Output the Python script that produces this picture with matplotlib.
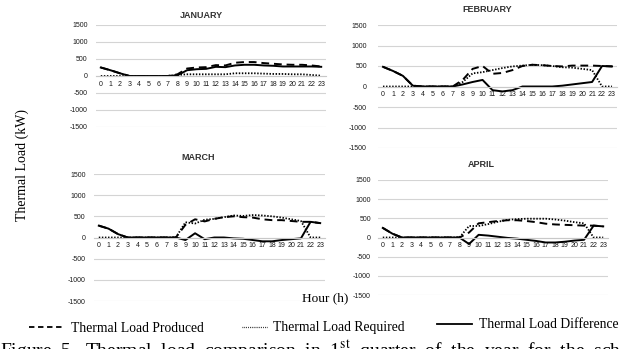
import matplotlib.pyplot as plt
from matplotlib.lines import Line2D

hours = list(range(24))
months = ["JANUARY", "FEBRUARY", "MARCH", "APRIL"]

# Thermal load per hour (kW)
jan_produced = [250, 170, 80, 0, 0, 0, 0, 0, 50, 220, 250, 260, 320, 310, 390, 410, 410, 380, 360, 340, 330, 330, 310, 280]
jan_required = [0, 0, 0, 0, 0, 0, 0, 0, 30, 50, 50, 50, 50, 50, 80, 80, 80, 70, 60, 60, 50, 50, 30, 10]
jan_difference = [250, 170, 80, 0, 0, 0, 0, 0, 20, 170, 200, 210, 270, 260, 310, 330, 330, 310, 300, 280, 280, 280, 280, 270]

feb_produced = [480, 380, 260, 20, 0, 0, 0, 0, 160, 430, 500, 310, 330, 400, 500, 530, 520, 500, 490, 510, 510, 510, 500, 490]
feb_required = [0, 0, 0, 0, 0, 0, 0, 0, 110, 320, 350, 400, 450, 490, 510, 530, 520, 500, 470, 460, 430, 400, 0, 0]
feb_difference = [480, 380, 260, 20, 0, 0, 0, 0, 50, 110, 160, -90, -120, -90, 0, 0, 0, 0, 20, 50, 80, 110, 500, 490]

mar_produced = [280, 210, 80, 0, 0, 0, 0, 0, 0, 300, 430, 380, 440, 480, 500, 480, 470, 430, 410, 410, 390, 370, 370, 340]
mar_required = [0, 0, 0, 0, 0, 0, 0, 0, 0, 360, 330, 420, 440, 480, 520, 510, 530, 520, 500, 470, 430, 390, 0, 0]
mar_difference = [280, 210, 80, 0, 0, 0, 0, 0, 0, -60, 100, -40, 0, 0, -20, -30, -60, -90, -90, -60, -40, -20, 370, 340]

apr_produced = [250, 100, 0, 0, 0, 0, 0, 0, 0, 130, 370, 400, 430, 450, 450, 430, 400, 360, 340, 330, 320, 310, 310, 290]
apr_required = [0, 0, 0, 0, 0, 0, 0, 0, 0, 300, 300, 350, 410, 460, 480, 490, 490, 490, 470, 440, 400, 370, 0, 0]
apr_difference = [250, 100, 0, 0, 0, 0, 0, 0, 0, -170, 70, 50, 20, -10, -30, -60, -90, -130, -130, -110, -80, -60, 310, 290]

y_ticks = [-1500, -1000, -500, 0, 500, 1000, 1500]

plt.rcParams['axes.unicode_minus'] = False
plt.rcParams['mathtext.fontset'] = 'stix'

W, H = 620, 349
fig = plt.figure(figsize=(W / 100, H / 100), dpi=100)


def box(x0, x1, ytop, ybot):
    # pixel box -> figure fraction
    return [x0 / W, 1 - ybot / H, (x1 - x0) / W, (ybot - ytop) / H]


panels = [
    (box(96, 326, 25, 127), (201, 16), 6, jan_produced, jan_required, jan_difference),
    (box(378, 617, 25, 148), (487, 10), 8, feb_produced, feb_required, feb_difference),
    (box(94, 325, 174, 301), (198, 158), 6, mar_produced, mar_required, mar_difference),
    (box(378, 608, 180, 295), (481, 165), 5, apr_produced, apr_required, apr_difference),
]

for name, (rect, (tx, ty), ypad, prod, req, diff) in zip(months, panels):
    ax = fig.add_axes(rect)
    # category axis sits on the zero line
    ax.spines['bottom'].set_position(('data', 0))
    ax.plot(hours, req, color='black', lw=1.3, linestyle=(0, (0.8, 0.9)))
    ax.plot(hours, prod, color='black', lw=1.4, linestyle=(0, (4, 2.5)))
    ax.plot(hours, diff, color='black', lw=1.4)
    ax.set_xlim(-0.5, 23.5)
    ax.set_ylim(-1500, 1500)
    ax.set_yticks(y_ticks)
    ax.set_yticklabels([str(v) for v in y_ticks])
    ax.set_xticks(hours)
    ax.set_xticklabels([str(h) for h in hours])
    ax.grid(axis='y', color='#d4d4d4', lw=0.8)
    ax.set_axisbelow(True)
    for s in ['top', 'right', 'left']:
        ax.spines[s].set_visible(False)
    ax.spines['bottom'].set_color('#c8c8c8')
    ax.spines['bottom'].set_linewidth(0.8)
    ax.tick_params(axis='x', length=0, pad=3.3, labelsize=5, labelcolor='#1a1a1a',
                   labelfontfamily='Liberation Sans')
    ax.tick_params(axis='y', length=0, pad=ypad, labelsize=5, labelcolor='#1a1a1a',
                   labelfontfamily='Liberation Sans')
    ax.patch.set_alpha(0)
    fig.text(tx / W, 1 - ty / H, name, ha='center', va='center',
             family='Liberation Sans', weight='bold', size=6.5, color='#333333')

serif = 'Liberation Serif'
fig.text(22 / W, 1 - 165 / H, "Thermal Load (kW)", rotation=90, ha='center', va='center',
         family=serif, size=10)
fig.text(325 / W, 1 - 298 / H, "Hour (h)", ha='center', va='center', family=serif, size=9.5)

# one legend per series so each entry keeps its own spot
legend_items = [
    (Line2D([], [], color='black', lw=1.3, linestyle=(0, (3, 2))), "Thermal Load Produced", 29, 328, 2.6),
    (Line2D([], [], color='black', lw=0.9, linestyle=(0, (0.6, 0.9))), "Thermal Load Required", 242, 328, 1.8),
    (Line2D([], [], color='black', lw=1.3), "Thermal Load Difference", 437, 325, 2.6),
]
for handle, label, lx, ly, hl in legend_items:
    leg = fig.legend([handle], [label], loc='center left', bbox_to_anchor=(lx / W, 1 - ly / H),
                     frameon=False, prop=dict(family=serif, size=9.8), handlelength=hl,
                     handletextpad=0.45, borderpad=0, borderaxespad=0)

fig.text(0, 1 - 338 / H,
         "Figure  5.  Thermal  load  comparison  in  1$^{\\mathrm{st}}$  quarter  of  the  year  for  the  school",
         ha='left', va='top', family=serif, size=14)

fig.savefig('out.png', dpi=100)
